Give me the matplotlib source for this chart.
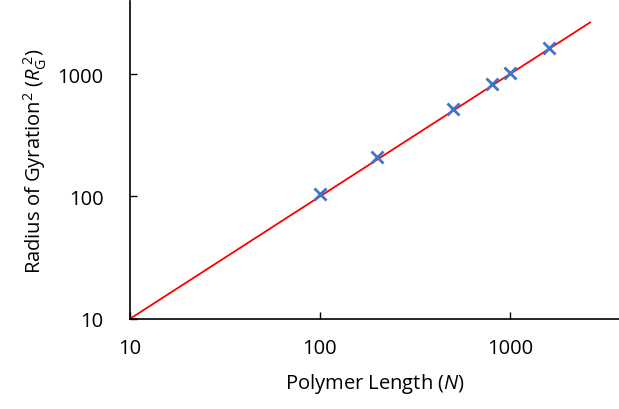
import matplotlib
matplotlib.use("Agg")
from matplotlib import pyplot as plt
import numpy as np

plt.rcParams['font.family'] = ['Open Sans', 'DejaVu Sans']
plt.rcParams['mathtext.fontset'] = 'custom'
plt.rcParams['mathtext.rm'] = 'Open Sans'
plt.rcParams['mathtext.it'] = 'Open Sans:italic'

# data
polymer_length = [100, 200, 500, 800, 1000, 1600]
rg_squared = [105, 210, 515, 830, 1020, 1630]
fit_x = [10, 2640]
fit_y = [10, 2640]
tick_vals = [10, 100, 1000]
tick_labels = ['10', '100', '1000']

fig = plt.figure(figsize=(6.19, 4.10), dpi=100)
ax = fig.add_axes([0.21, 0.22, 0.79, 0.775])

ax.plot(fit_x, fit_y, color='#ff0000', lw=1.3, zorder=2)
ax.plot(polymer_length, rg_squared, 'x', color='#4472C4', ms=8, mew=2, zorder=3)

ax.set_xscale('log')
ax.set_yscale('log')
ax.set_xlim(10, 3750)
ax.set_ylim(10, 3950)

ax.set_xticks(tick_vals)
ax.set_xticklabels(tick_labels)
ax.set_yticks(tick_vals)
ax.set_yticklabels(tick_labels)
ax.minorticks_off()
ax.tick_params(axis='both', direction='in', length=5, labelsize=14.5, width=1)
ax.tick_params(axis='x', pad=14)
ax.tick_params(axis='y', pad=19)

for s in ['top', 'right']:
    ax.spines[s].set_visible(False)
for s in ['left', 'bottom']:
    ax.spines[s].set_linewidth(1.2)

ax.set_xlabel(r'Polymer Length ($\mathit{N}$)', fontsize=14.5, labelpad=9)
ax.set_ylabel(r'Radius of Gyration$^2$ ($\mathit{R}_\mathrm{G}^{\ 2}$)', fontsize=14.5, labelpad=6)

fig.savefig('out.png', dpi=100)
